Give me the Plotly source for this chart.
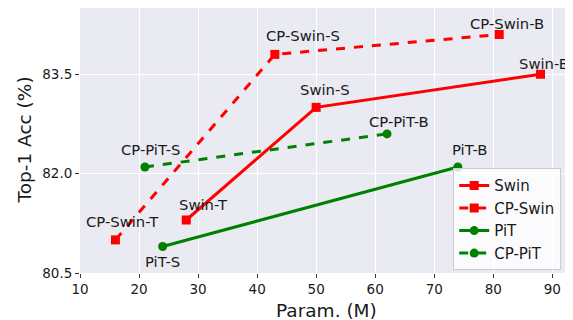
import plotly.graph_objects as go

# Data
swin_x = [28, 50, 88]
swin_y = [81.3, 83.0, 83.5]
swin_labels = ["Swin-T", "Swin-S", "Swin-B"]

cpswin_x = [16, 43, 81]
cpswin_y = [81.0, 83.8, 84.1]
cpswin_labels = ["CP-Swin-T", "CP-Swin-S", "CP-Swin-B"]

pit_x = [24, 74]
pit_y = [80.9, 82.1]
pit_labels = ["PiT-S", "PiT-B"]

cppit_x = [21, 62]
cppit_y = [82.1, 82.6]
cppit_labels = ["CP-PiT-S", "CP-PiT-B"]

x_ticks = [10, 20, 30, 40, 50, 60, 70, 80, 90]
y_ticks = [80.5, 82.0, 83.5]

# label offsets (pixels, xshift, yshift)
swin_off = [(17, 16), (9, 18), (3, 11)]
cpswin_off = [(7, 18), (28, 19), (8, 11)]
pit_off = [(0, -15), (12, 18)]
cppit_off = [(6, 18), (12, 12)]

RED = "#FF0000"
GREEN = "#008000"
FONT = "DejaVu Sans"
TXT = "#1a1a1a"

fig = go.Figure()

series = [
    ("Swin", swin_x, swin_y, RED, "solid", "square", 9, swin_labels, swin_off),
    ("CP-Swin", cpswin_x, cpswin_y, RED, "dash", "square", 9, cpswin_labels, cpswin_off),
    ("PiT", pit_x, pit_y, GREEN, "solid", "circle", 9, pit_labels, pit_off),
    ("CP-PiT", cppit_x, cppit_y, GREEN, "dash", "circle", 9, cppit_labels, cppit_off),
]

annotations = []
for name, xs, ys, col, dash, sym, msize, labels, offs in series:
    fig.add_trace(go.Scatter(
        x=xs, y=ys, name=name, mode="lines+markers",
        line=dict(color=col, width=3, dash=dash),
        marker=dict(color=col, symbol=sym, size=msize),
    ))
    for xv, yv, lab, (dx, dy) in zip(xs, ys, labels, offs):
        annotations.append(dict(
            x=xv, y=yv, text=lab, showarrow=False, xref="x", yref="y",
            xshift=dx, yshift=dy, font=dict(size=14.8, color=TXT, family=FONT),
        ))

# axis titles
annotations.append(dict(
    x=0.5, y=0, xref="paper", yref="paper", yshift=-37, yanchor="middle",
    text="Param. (M)", showarrow=False, font=dict(size=18.5, family=FONT, color=TXT),
))
annotations.append(dict(
    x=0, y=0.5, xref="paper", yref="paper", xshift=-56, xanchor="center",
    text="Top-1 Acc (%)", showarrow=False, textangle=-90,
    font=dict(size=18.5, family=FONT, color=TXT),
))

# page body has an 8px margin: figure occupies 565x312 starting at (8, 8)
fig.update_layout(
    width=565, height=312,
    margin=dict(l=72, r=0, t=0, b=47, autoexpand=False),
    paper_bgcolor="white",
    plot_bgcolor="#EAEAF2",
    font=dict(family=FONT, color=TXT),
    annotations=annotations,
    legend=dict(
        x=0.757, y=0.395, xanchor="left", yanchor="top",
        bgcolor="rgba(255,255,255,0.8)", bordercolor="#cccccc", borderwidth=1,
        font=dict(size=15, family=FONT, color=TXT),
        itemwidth=30, tracegroupgap=0,
    ),
    xaxis=dict(
        range=[10, 93.5], tickvals=x_ticks, ticktext=[str(v) for v in x_ticks],
        showgrid=True, gridcolor="white", gridwidth=1, zeroline=False,
        ticks="outside", ticklen=4, tickcolor="#333333",
        tickfont=dict(size=13.5, family=FONT, color=TXT),
        showline=False, automargin=False,
    ),
    yaxis=dict(
        range=[80.5, 84.5], tickvals=y_ticks, ticktext=["%.1f" % v for v in y_ticks],
        showgrid=True, gridcolor="white", gridwidth=1, zeroline=False,
        ticks="outside", ticklen=4, tickcolor="#333333",
        tickfont=dict(size=13.5, family=FONT, color=TXT),
        showline=False, automargin=False,
    ),
)

fig.write_html(
    "out.html",
    post_script="document.documentElement.style.overflow='hidden';document.body.style.overflow='hidden';",
)
